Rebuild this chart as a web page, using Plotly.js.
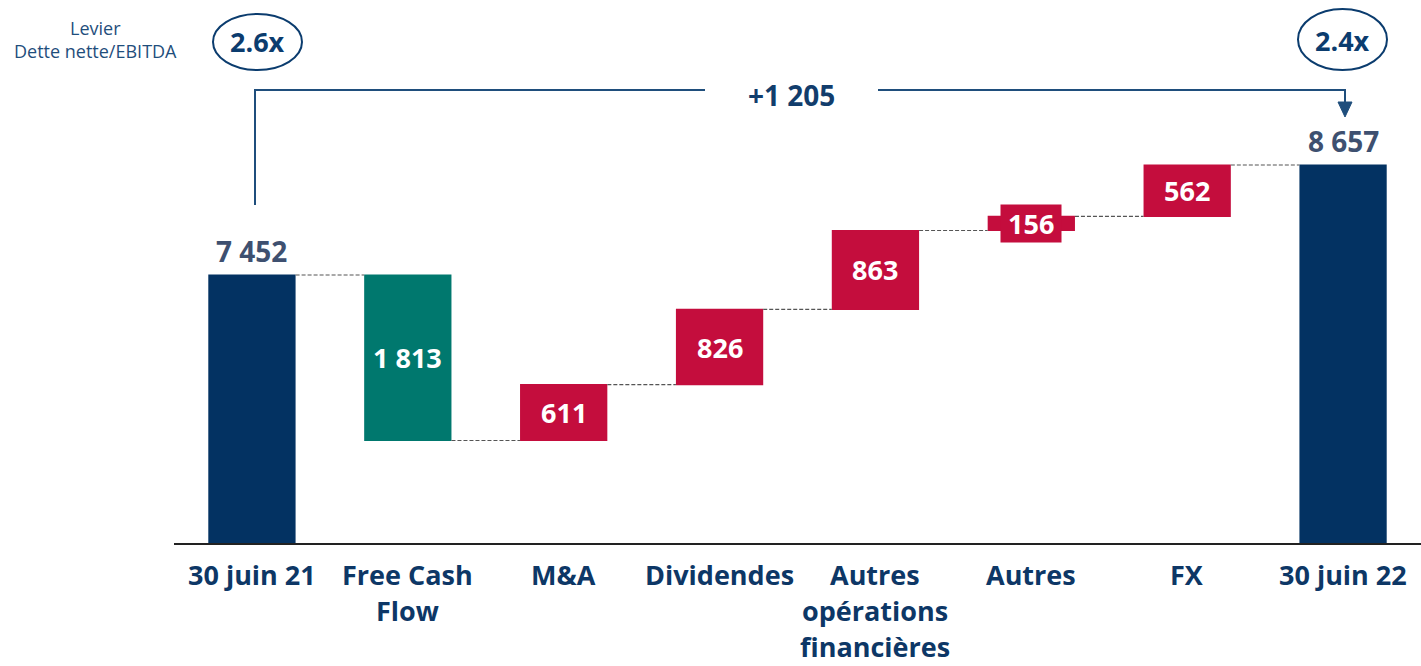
<!DOCTYPE html>
<html>
<head>
<meta charset="utf-8">
<script src="https://cdn.plot.ly/plotly-3.0.1.min.js"></script>
<style>html,body{margin:0;padding:0;background:#fff;}#chart{width:1421px;height:666px;}</style>
</head>
<body>
<div id="chart"></div>
<script>
// ---- data ----
const categories = ["30 juin 21", "Free Cash<br>Flow", "M&A", "Dividendes", "Autres<br>opérations<br>financières", "Autres", "FX", "30 juin 22"];
const measures = ["absolute", "relative", "relative", "relative", "relative", "relative", "relative", "total"];
const values = [7452, -1813, 611, 826, 863, 156, 562, 8657];
const leverage = ["2.6x", "2.4x"];
const leverageLabel = "Levier<br>Dette nette/EBITDA";

// ---- helpers ----
const fmt = v => Math.abs(v).toString().replace(/\B(?=(\d{3})+(?!\d))/g, " ");
const W = 1421, H = 666, ML = 174, MR = 0, MT = 60, MB = 123;
const PW = W - ML - MR, PH = H - MT - MB;
const PX = x => (x - ML) / PW;
const PY = y => (H - MB - y) / PH;

const NAVY = "#033262", RED = "#C40D3D", TEAL = "#00786E", LBL = "#3E5070", CAT = "#0D3766", LINE = "#1F4E7C";
const FONT = "Open Sans, Noto Sans, sans-serif";

// cumulative positions
const idx = categories.map((_, i) => i);
let run = 0; const bottoms = [], tops = [];
values.forEach((v, i) => {
  if (measures[i] === "absolute") { bottoms.push(0); tops.push(v); run = v; }
  else if (measures[i] === "total") { bottoms.push(0); tops.push(run); }
  else { const s = run; run += v; bottoms.push(Math.min(s, run)); tops.push(Math.max(s, run)); }
});

const trace = {
  type: "waterfall",
  x: idx,
  y: values.map((v, i) => measures[i] === "total" ? 0 : v),
  measure: measures,
  width: 0.56,
  text: values.map(() => ""),
  textposition: "none",
  hoverinfo: "skip",
  increasing: {marker: {color: RED}},
  decreasing: {marker: {color: TEAL}},
  totals: {marker: {color: NAVY}},
  connector: {mode: "between", line: {color: "#555", width: 1.2, dash: "4px,2px"}}
};

const annotations = [];
values.forEach((v, i) => {
  if (measures[i] !== "relative") {
    annotations.push({x: i, y: tops[i], xref: "x", yref: "y", text: "<b>" + fmt(tops[i]) + "</b>",
      showarrow: false, xanchor: "center", yanchor: "bottom", yshift: 3, font: {family: FONT, size: 28, color: LBL}});
  } else {
    const small = (tops[i] - bottoms[i]) < 300;
    annotations.push({x: i, y: (tops[i] + bottoms[i]) / 2, xref: "x", yref: "y",
      text: small ? "&nbsp;<b>" + fmt(v) + "</b>&nbsp;" : "<b>" + fmt(v) + "</b>",
      showarrow: false, xanchor: "center", yanchor: "middle", font: {family: FONT, size: 27, color: "#fff"},
      bgcolor: small ? RED : "rgba(0,0,0,0)", borderpad: 0});
  }
});
// category labels, one annotation per line for the wider line spacing
categories.forEach((c, i) => {
  c.split("<br>").forEach((line, k) => {
    annotations.push({x: i, y: PY(574 + 36 * k), xref: "x", yref: "paper", text: "<b>" + line + "</b>",
      showarrow: false, xanchor: "center", yanchor: "middle", font: {family: FONT, size: 27, color: CAT}});
  });
});
// leverage labels
annotations.push({x: PX(95), y: PY(39), xref: "paper", yref: "paper", text: leverageLabel, showarrow: false,
  xanchor: "center", yanchor: "middle", font: {family: FONT, size: 18, color: LINE}, align: "center"});
annotations.push({x: PX(257), y: PY(42), xref: "paper", yref: "paper", text: "<b>" + leverage[0] + "</b>", showarrow: false,
  xanchor: "center", yanchor: "middle", font: {family: FONT, size: 27, color: "#0B3C6E"}});
annotations.push({x: PX(1342), y: PY(40), xref: "paper", yref: "paper", text: "<b>" + leverage[1] + "</b>", showarrow: false,
  xanchor: "center", yanchor: "middle", font: {family: FONT, size: 27, color: "#0B3C6E"}});
const delta = tops[tops.length - 1] - values[0];
annotations.push({x: PX(791), y: PY(95), xref: "paper", yref: "paper", text: "<b>" + (delta >= 0 ? "+" : "-") + fmt(delta) + "</b>",
  showarrow: false, xanchor: "center", yanchor: "middle", font: {family: FONT, size: 28, color: "#123D6C"}});

const shapes = [
  {type: "circle", xref: "paper", yref: "paper", x0: PX(213), x1: PX(302), y0: PY(70), y1: PY(14), line: {color: "#0B3C6E", width: 2}},
  {type: "circle", xref: "paper", yref: "paper", x0: PX(1298), x1: PX(1387), y0: PY(70), y1: PY(9), line: {color: "#0B3C6E", width: 2}},
  {type: "path", xref: "paper", yref: "paper",
    path: `M ${PX(255)} ${PY(205)} L ${PX(255)} ${PY(90)} L ${PX(705)} ${PY(90)}`, line: {color: LINE, width: 2}},
  {type: "path", xref: "paper", yref: "paper",
    path: `M ${PX(878)} ${PY(90)} L ${PX(1345)} ${PY(90)} L ${PX(1345)} ${PY(103)}`, line: {color: LINE, width: 2}},
  {type: "path", xref: "paper", yref: "paper",
    path: `M ${PX(1338)} ${PY(102)} L ${PX(1352)} ${PY(102)} L ${PX(1345)} ${PY(117)} Z`, fillcolor: LINE, line: {color: LINE, width: 1}}
];

const layout = {
  width: W, height: H,
  margin: {l: ML, r: MR, t: MT, b: MB},
  paper_bgcolor: "#fff", plot_bgcolor: "#fff",
  showlegend: false,
  xaxis: {
    range: [-0.5, 7.5], tickmode: "array", tickvals: idx, ticktext: idx.map(() => ""),
    showline: true, linecolor: "#222", linewidth: 2, showgrid: false, zeroline: false, ticks: "",
    fixedrange: true
  },
  yaxis: {range: [4516, 9807], visible: false, showgrid: false, zeroline: false, fixedrange: true},
  annotations: annotations,
  shapes: shapes
};

Plotly.newPlot("chart", [trace], layout, {displayModeBar: false, staticPlot: true});
</script>
</body>
</html>
